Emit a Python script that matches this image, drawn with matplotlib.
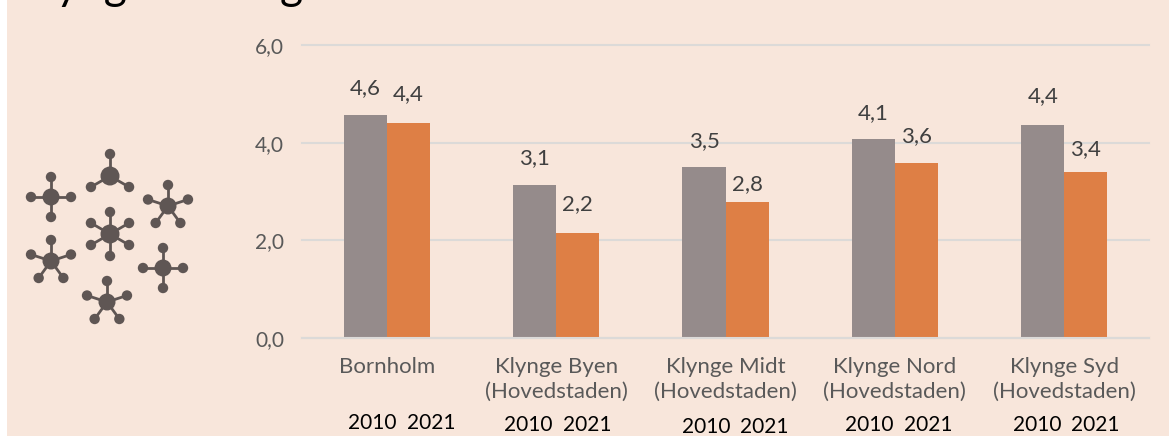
import numpy as np
import matplotlib
matplotlib.use("Agg")
import matplotlib.pyplot as plt

plt.rcParams['font.family'] = ['Lato', 'DejaVu Sans']

categories = ['Bornholm', 'Klynge Byen\n(Hovedstaden)', 'Klynge Midt\n(Hovedstaden)',
              'Klynge Nord\n(Hovedstaden)', 'Klynge Syd\n(Hovedstaden)']
values_2010 = [4.56, 3.14, 3.51, 4.07, 4.36]
values_2021 = [4.41, 2.16, 2.79, 3.59, 3.39]
y_ticks = [0, 2, 4, 6]
years = ['2010', '2021']

W, H = 1169, 436
BG = '#F8E6DB'
GREY = '#958B8B'
ORANGE = '#DE7F45'
ICON = '#5F5654'

fig = plt.figure(figsize=(W / 100, H / 100), dpi=100, facecolor='white')

# background panel, white strip on the left
bg = fig.add_axes([0, 0, 1, 1], zorder=0)
bg.set_xlim(0, W)
bg.set_ylim(H, 0)
bg.axis('off')
bg.axvspan(7, W, color=BG, lw=0)


def molecule(cx, cy, r, angles, arm=21):
    """One small molecule of the icon, pixel coordinates"""
    for a in angles:
        t = np.radians(a)
        x, y = cx + arm * np.sin(t), cy - arm * np.cos(t)
        bg.plot([cx, x], [cy, y], color=ICON, lw=2, zorder=2)
        bg.add_patch(plt.Circle((x, y), 5.2, color=ICON, lw=0, zorder=3))
    bg.add_patch(plt.Circle((cx, cy), r, color=ICON, lw=0, zorder=3))


molecule(51, 197, 8.5, [0, 90, 180, 270], arm=20)
molecule(110, 176, 9.5, [0, 120, 240], arm=22)
molecule(168, 206, 8.5, [0, 72, 144, 216, 288], arm=21)
molecule(110, 234, 9.5, [0, 60, 120, 180, 240, 300], arm=22)
molecule(51, 261, 8.5, [0, 72, 144, 216, 288], arm=21)
molecule(163, 268, 8.5, [0, 90, 180, 270], arm=20)
molecule(107, 302, 8.5, [0, 72, 144, 216, 288], arm=21)

# title runs off the top of the picture, only the descenders show
bg.text(17, -1, 'Klyngeindeling', fontsize=32, color='black', va='baseline', ha='left', clip_on=False)

ax = fig.add_axes([302 / W, (H - 338) / H, 847 / W, 293 / H], zorder=1)
ax.patch.set_alpha(0)

x = np.arange(len(categories))
width = 0.254
bars_a = ax.bar(x - width / 2, values_2010, width, color=GREY, zorder=2)
bars_b = ax.bar(x + width / 2, values_2021, width, color=ORANGE, zorder=2)

# labels were placed by hand in the original, offset in pixels above each bar
for bars, offsets in [(bars_a, [27, 27, 26, 26, 29]), (bars_b, [29, 28, 18, 27, 23])]:
    for bar, off in zip(bars, offsets):
        v = bar.get_height()
        ax.annotate(f'{v:.1f}'.replace('.', ','), (bar.get_x() + bar.get_width() / 2, v),
                    xytext=(0, off * 0.72), textcoords='offset points',
                    ha='center', va='center', fontsize=16, color='#404040', zorder=3)

ax.set_xlim(-0.5, len(categories) - 0.5)
ax.set_ylim(0, 6)
ax.set_xticks(x)
ax.set_xticklabels(categories, fontsize=16, color='#595959', linespacing=1.25)
ax.set_yticks(y_ticks)
ax.set_yticklabels([f'{v:.1f}'.replace('.', ',') for v in y_ticks], fontsize=15, color='#595959')
ax.tick_params(length=0, pad=13)
ax.tick_params(axis='x', pad=14)
ax.grid(axis='y', color='#DCDAD8', lw=1.5, zorder=1)
for line in ax.get_ygridlines():
    line.set_clip_on(False)
for s in ['top', 'left', 'right']:
    ax.spines[s].set_visible(False)
ax.spines['bottom'].set_color('#DCDAD8')
ax.spines['bottom'].set_linewidth(1.5)

# year captions pasted under each cluster
year_pos = [(372, 431, 423), (528, 587, 425), (706, 764, 427), (869, 928, 425), (1037, 1095, 425)]
for x0, x1, yy in year_pos:
    bg.text(x0, yy, years[0], fontsize=15, color='black', ha='center', va='center')
    bg.text(x1, yy, years[1], fontsize=15, color='black', ha='center', va='center')

fig.savefig('out.png', dpi=100, facecolor='white')
